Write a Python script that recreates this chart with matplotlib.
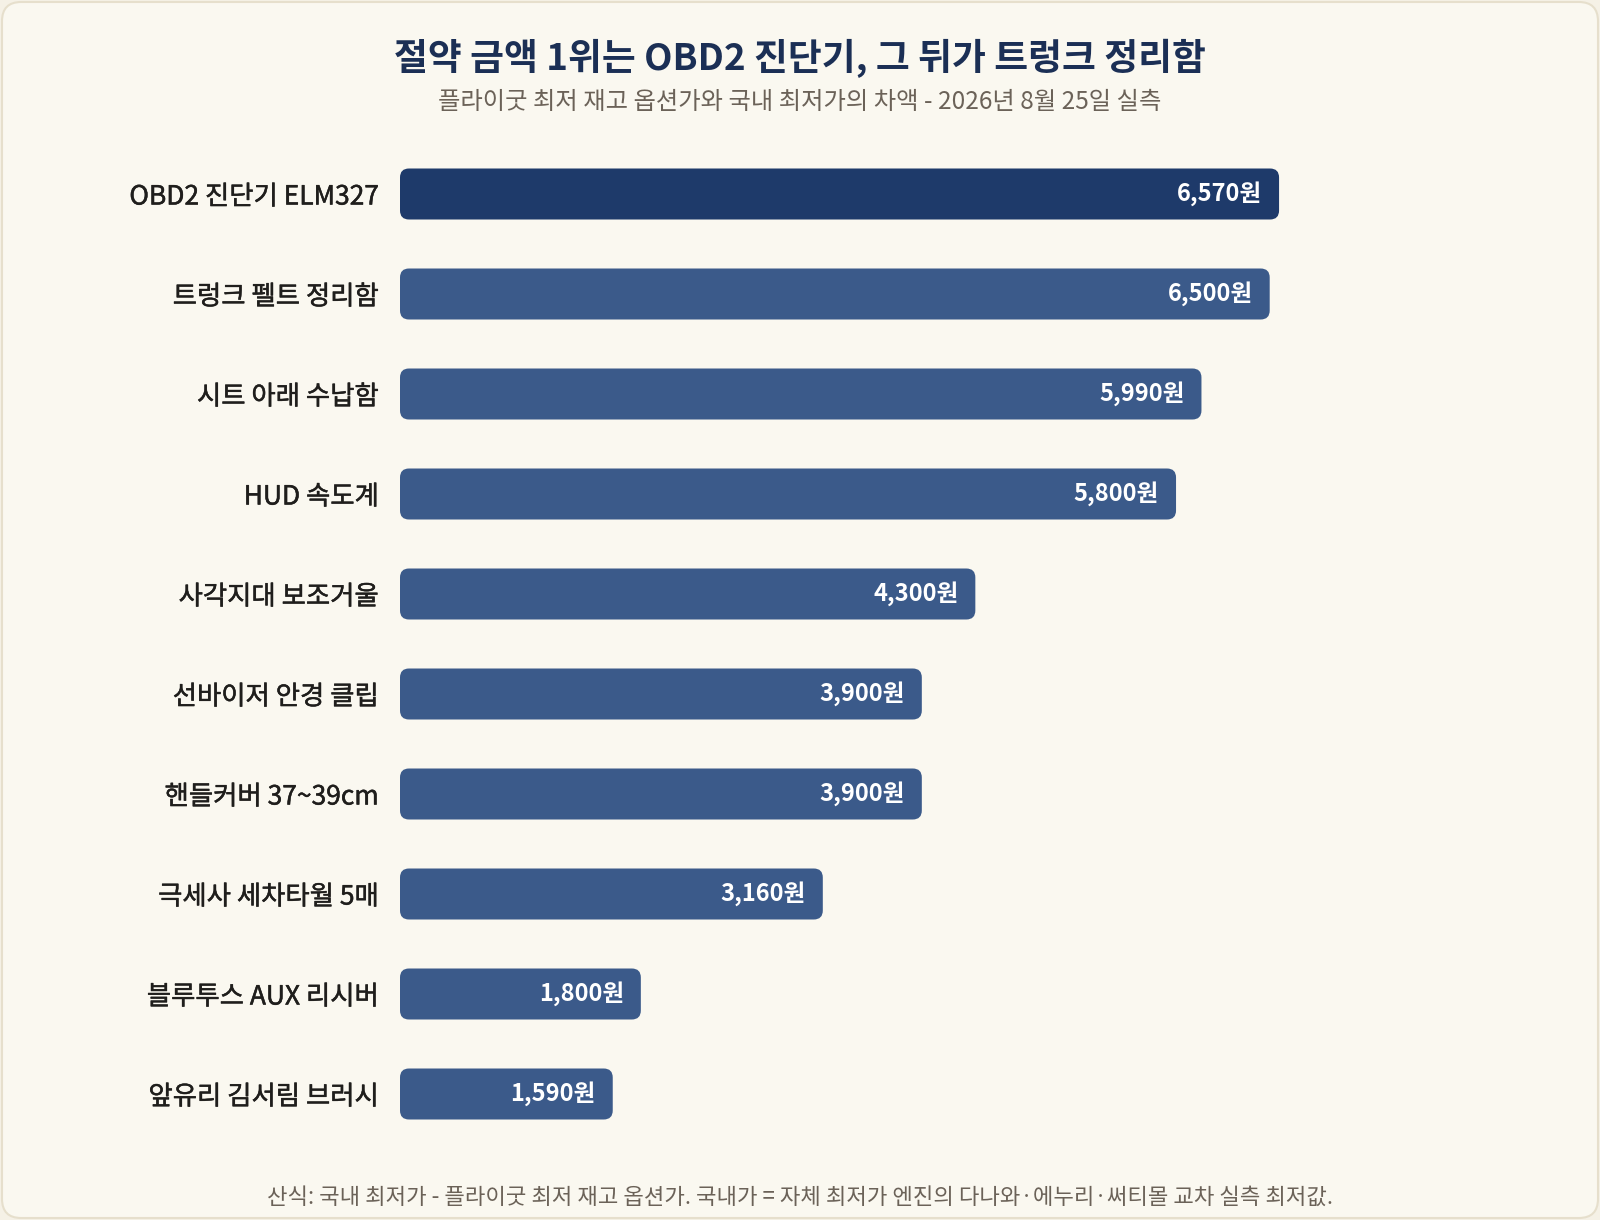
import matplotlib
matplotlib.use('Agg')
import matplotlib.pyplot as plt
import matplotlib.patheffects as pe
from matplotlib.patches import FancyBboxPatch

plt.rcParams['font.family'] = ['Noto Sans CJK KR', 'DejaVu Sans']

# 데이터
items = [
    'OBD2 진단기 ELM327',
    '트렁크 펠트 정리함',
    '시트 아래 수납함',
    'HUD 속도계',
    '사각지대 보조거울',
    '선바이저 안경 클립',
    '핸들커버 37~39cm',
    '극세사 세차타월 5매',
    '블루투스 AUX 리시버',
    '앞유리 김서림 브러시',
]
savings = [6570, 6500, 5990, 5800, 4300, 3900, 3900, 3160, 1800, 1590]

title = '절약 금액 1위는 OBD2 진단기, 그 뒤가 트렁크 정리함'
subtitle = '플라이굿 최저 재고 옵션가와 국내 최저가의 차액 - 2026년 8월 25일 실측'
footnote = ('산식: 국내 최저가 - 플라이굿 최저 재고 옵션가. '
            '국내가 = 자체 최저가 엔진의 다나와·에누리·써티몰 교차 실측 최저값.')

BG = '#FAF8F0'
TOP_COLOR = '#1E3A6A'
BAR_COLOR = '#3B5A8A'
LABEL_COLOR = '#1F1E1C'

W, H = 1600, 1220
fig = plt.figure(figsize=(W / 100, H / 100), dpi=100)
fig.patch.set_facecolor('#F5F1E6')

# 카드 배경
card = FancyBboxPatch((2 / W, 2 / H), (W - 4) / W, (H - 4) / H,
                      boxstyle='round,pad=0,rounding_size=0.012',
                      mutation_aspect=W / H,
                      transform=fig.transFigure, facecolor=BG,
                      edgecolor='#E6DFCC', linewidth=1.5, zorder=-10)
fig.patches.append(card)

px_per_unit = 0.1338
ax_left, ax_right = 400, 1560
ax_top, ax_bot = 144, 1144
ax = fig.add_axes([ax_left / W, (H - ax_bot) / H,
                   (ax_right - ax_left) / W, (ax_bot - ax_top) / H])
ax.set_facecolor('none')
ax.set_zorder(5)
ax.set_xlim(0, (ax_right - ax_left) / px_per_unit)
ax.set_ylim(len(items) - 0.5, -0.5)

ypos = list(range(len(items)))
colors = [TOP_COLOR] + [BAR_COLOR] * (len(items) - 1)
bars = ax.barh(ypos, savings, height=0.51, color=colors)

# 둥근 모서리 막대로 교체
x_unit_px = 1 / px_per_unit
y_unit_px = len(items) / (ax_bot - ax_top)
radius_px = 9
for b in bars:
    x0, y0 = b.get_x(), b.get_y()
    w, h = b.get_width(), b.get_height()
    rp = FancyBboxPatch((x0, y0), w, h,
                        boxstyle=f'round,pad=0,rounding_size={radius_px * x_unit_px}',
                        mutation_aspect=y_unit_px / x_unit_px,
                        facecolor=b.get_facecolor(), edgecolor='none', zorder=2)
    ax.add_patch(rp)
    b.set_visible(False)

for y, v in zip(ypos, savings):
    ax.text(v - 17 * x_unit_px, y, f'{v:,}원', ha='right', va='center',
            color='white', fontsize=17, fontweight='bold', zorder=3)

ax.set_yticks(ypos)
ax.set_yticklabels(items, fontsize=19, color=LABEL_COLOR)
# Medium 굵기 흉내
for lbl in ax.get_yticklabels():
    lbl.set_path_effects([pe.withStroke(linewidth=0.35, foreground=LABEL_COLOR)])
ax.tick_params(axis='y', length=0, pad=15.5)
ax.set_xticks([])
for s in ax.spines.values():
    s.set_visible(False)

fig.text(0.5, 1 - 58 / H, title, ha='center', va='center',
         fontsize=26.5, fontweight='bold', color='#1B2F55')
fig.text(0.5, 1 - 102 / H, subtitle, ha='center', va='center',
         fontsize=17.5, color='#6B6258')
fig.text(0.5, 1 - 1197 / H, footnote, ha='center', va='center',
         fontsize=16, color='#6B6258')

fig.savefig('out.png', dpi=100, facecolor=fig.get_facecolor())
